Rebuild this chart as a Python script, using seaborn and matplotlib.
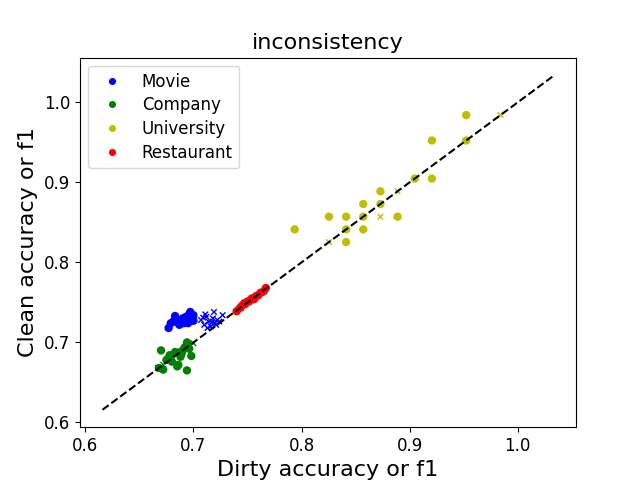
import numpy as np
import pandas as pd
import seaborn as sns
import matplotlib.pyplot as plt

# values (dirty vs clean)
movie_acc_x = [0.677, 0.683, 0.685, 0.688, 0.690, 0.692, 0.693, 0.695, 0.697, 0.698, 0.700, 0.700, 0.687, 0.682, 0.691, 0.679, 0.696]
movie_acc_y = [0.718, 0.733, 0.725, 0.726, 0.730, 0.728, 0.732, 0.724, 0.738, 0.730, 0.734, 0.727, 0.722, 0.727, 0.724, 0.724, 0.735]
movie_f1_x = [0.707, 0.710, 0.712, 0.714, 0.716, 0.718, 0.719, 0.720, 0.722, 0.724, 0.727, 0.713, 0.709, 0.717, 0.711, 0.721]
movie_f1_y = [0.728, 0.722, 0.732, 0.726, 0.720, 0.730, 0.738, 0.724, 0.728, 0.726, 0.734, 0.718, 0.731, 0.725, 0.735, 0.722]

company_acc_x = [0.670, 0.672, 0.675, 0.678, 0.680, 0.683, 0.685, 0.688, 0.690, 0.692, 0.694, 0.696, 0.698, 0.694, 0.686, 0.668, 0.677, 0.689]
company_acc_y = [0.690, 0.666, 0.678, 0.684, 0.676, 0.688, 0.670, 0.682, 0.690, 0.694, 0.700, 0.692, 0.683, 0.665, 0.672, 0.668, 0.680, 0.686]
company_f1_x = [0.667, 0.680, 0.695, 0.700, 0.672, 0.688]
company_f1_y = [0.668, 0.682, 0.695, 0.699, 0.672, 0.689]

# university scores are multiples of 1/63
univ_acc_x = [60, 60, 58, 57, 58, 55, 54, 55, 52, 53, 54, 56, 50, 53, 54, 53]
univ_acc_y = [62, 60, 60, 57, 57, 56, 55, 55, 54, 54, 54, 54, 53, 53, 53, 52]
univ_f1_x = [62, 56, 55, 52]
univ_f1_y = [62, 56, 54, 52]

rest_acc_x = [0.740, 0.743, 0.745, 0.747, 0.748, 0.750, 0.752, 0.754, 0.756, 0.758, 0.760, 0.762, 0.765, 0.767]
rest_acc_y = [0.739, 0.743, 0.746, 0.749, 0.748, 0.751, 0.752, 0.755, 0.754, 0.758, 0.759, 0.762, 0.764, 0.768]
rest_f1_x = [0.744, 0.751, 0.757, 0.763]
rest_f1_y = [0.743, 0.750, 0.756, 0.762]

datasets = ["Movie", "Company", "University", "Restaurant"]
colors = ["b", "g", "y", "r"]

rows = []
for name, ax_, ay_, fx_, fy_ in [
    ("Movie", movie_acc_x, movie_acc_y, movie_f1_x, movie_f1_y),
    ("Company", company_acc_x, company_acc_y, company_f1_x, company_f1_y),
    ("University", [v / 63 for v in univ_acc_x], [v / 63 for v in univ_acc_y],
     [v / 63 for v in univ_f1_x], [v / 63 for v in univ_f1_y]),
    ("Restaurant", rest_acc_x, rest_acc_y, rest_f1_x, rest_f1_y),
]:
    for x, y in zip(ax_, ay_):
        rows.append((name, "acc", x, y))
    for x, y in zip(fx_, fy_):
        rows.append((name, "f1", x, y))
df = pd.DataFrame(rows, columns=["dataset", "metric", "dirty", "clean"])

fig, ax = plt.subplots(figsize=(6.4, 4.8), dpi=100)
pal = dict(zip(datasets, colors))

sns.scatterplot(data=df[df.metric == "acc"], x="dirty", y="clean", hue="dataset",
                hue_order=datasets, palette=pal, marker="o", s=36, linewidth=0, ax=ax)
sns.scatterplot(data=df[df.metric == "f1"], x="dirty", y="clean", hue="dataset",
                hue_order=datasets, palette=pal, marker="x", s=16, linewidth=1,
                legend=False, ax=ax)

lo, hi = 0.6158, 1.0327
ax.plot([lo, hi], [lo, hi], "k--")

ax.set_xlim(0.595, 1.054)
ax.set_ylim(0.594, 1.056)
ax.set_title("inconsistency", fontsize=16)
ax.set_xlabel("Dirty accuracy or f1", fontsize=16)
ax.set_ylabel("Clean accuracy or f1", fontsize=16)
ax.tick_params(labelsize=12)
ax.legend(loc="upper left", fontsize=12, labelspacing=0.34, markerscale=0.85)

plt.savefig("out.png", dpi=100)
plt.close()
